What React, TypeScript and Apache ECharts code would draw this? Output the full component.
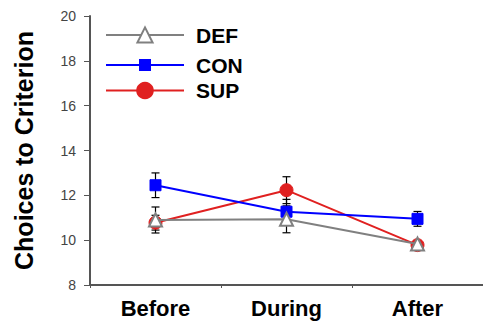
import React, { useEffect, useRef } from "react";
import * as echarts from "echarts";

const categories = ["Before", "During", "After"];
const yTicks = [8, 10, 12, 14, 16, 18, 20];
const defValues = [10.9, 10.93, 9.83];
const defErr = [0.58, 0.6, 0.1];
const conValues = [12.45, 11.27, 10.95];
const conErr = [0.55, 0.55, 0.33];
const supValues = [10.78, 12.23, 9.78];
const supErr = [0.33, 0.6, 0.1];

const FONT = 'Arial, "Liberation Sans", Helvetica, sans-serif';

export default function App() {
  const ref = useRef<HTMLDivElement>(null);
  useEffect(() => {
    if (!ref.current) return;
    const chart = echarts.init(ref.current, null, { renderer: "svg" });
    const errData: number[][] = [];
    [
      [defValues, defErr],
      [conValues, conErr],
      [supValues, supErr],
    ].forEach(([vals, errs]) => {
      vals.forEach((v, i) => errData.push([i, v - errs[i], v + errs[i]]));
    });
    const legendItem = (name: string, top: number, h: number) => ({
      data: [name],
      orient: "vertical",
      left: 105,
      top: top - h / 2,
      itemWidth: 78,
      itemHeight: h,
      padding: 0,
      selectedMode: false,
      textStyle: {
        fontFamily: FONT,
        fontWeight: "bold",
        fontSize: 21,
        color: "#000",
        padding: [0, 0, 0, 7],
      },
    });
    chart.setOption({
      animation: false,
      backgroundColor: "#fff",
      grid: { left: 90, top: 16, right: -6, bottom: 41 },
      legend: [
        legendItem("DEF", 34, 19),
        legendItem("CON", 62, 15),
        legendItem("SUP", 91, 22),
      ],
      xAxis: {
        type: "category",
        data: categories,
        boundaryGap: true,
        axisLine: { lineStyle: { color: "#555", width: 2 } },
        axisTick: { show: true, length: 3, lineStyle: { color: "#555" } },
        axisLabel: {
          fontFamily: FONT,
          fontWeight: "bold",
          fontSize: 22,
          color: "#000",
          margin: 12,
        },
      },
      yAxis: {
        type: "value",
        min: yTicks[0],
        max: yTicks[yTicks.length - 1],
        interval: 2,
        name: "Choices to Criterion",
        nameLocation: "middle",
        nameGap: 54,
        nameTextStyle: {
          fontFamily: FONT,
          fontWeight: "bold",
          fontSize: 25,
          color: "#000",
        },
        splitLine: { show: false },
        axisLine: { show: true, lineStyle: { color: "#555", width: 2 } },
        axisTick: { show: true, length: 6, lineStyle: { color: "#555" } },
        axisLabel: {
          fontFamily: FONT,
          fontSize: 14,
          color: "#444",
          margin: 14,
        },
      },
      series: [
        {
          type: "custom",
          name: "err",
          z: 1,
          data: errData,
          renderItem: (params: any, api: any) => {
            const x = api.value(0);
            const lo = api.coord([x, api.value(1)]);
            const hi = api.coord([x, api.value(2)]);
            const w = 4;
            const style = { stroke: "#000", lineWidth: 1.2 };
            return {
              type: "group",
              children: [
                { type: "line", shape: { x1: lo[0], y1: lo[1], x2: hi[0], y2: hi[1] }, style },
                { type: "line", shape: { x1: lo[0] - w, y1: lo[1], x2: lo[0] + w, y2: lo[1] }, style },
                { type: "line", shape: { x1: hi[0] - w, y1: hi[1], x2: hi[0] + w, y2: hi[1] }, style },
              ],
            };
          },
        },
        {
          type: "line",
          name: "SUP",
          z: 2,
          data: supValues,
          symbol: "circle",
          symbolSize: 13,
          lineStyle: { color: "#e02020", width: 2 },
          itemStyle: { color: "#e02020", borderColor: "#e02020" },
        },
        {
          type: "line",
          name: "CON",
          z: 3,
          data: conValues,
          symbol: "rect",
          symbolSize: 11,
          lineStyle: { color: "#0000ff", width: 2 },
          itemStyle: { color: "#0000ff", borderColor: "#0000ff" },
        },
        {
          type: "line",
          name: "DEF",
          z: 4,
          data: defValues,
          symbol: "triangle",
          symbolSize: 13,
          lineStyle: { color: "#808080", width: 2 },
          itemStyle: { color: "#ffffff", borderColor: "#808080", borderWidth: 2 },
        },
      ],
    });
    return () => chart.dispose();
  }, []);
  return <div ref={ref} style={{ width: 483, height: 326, position: "absolute", left: 0, top: 0 }} />;
}
